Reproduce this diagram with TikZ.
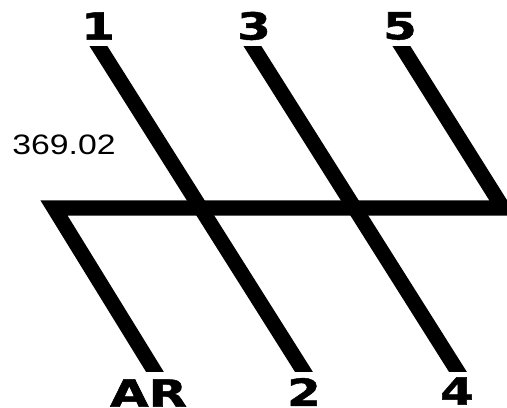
\documentclass[tikz,border=0pt]{standalone}
\usepackage{fontspec}
\setmainfont{Liberation Sans}
\newfontfamily\gearfont[FakeBold=1.2]{DejaVu Sans Bold}
\usepackage{xcolor}

\tikzset{
  rail/.style={line width=4.3pt,line cap=rect,line join=miter},
  gearlabel/.style={inner sep=0pt,font=\gearfont\fontsize{10.6}{11}\selectfont,xscale=1.3,transform shape}
}

\begin{document}
\begin{tikzpicture}
  \useasboundingbox (0,0) rectangle (5.07,4.08);

  \coordinate (top1) at (0.99,3.61);
  \coordinate (top3) at (2.53,3.61);
  \coordinate (top5) at (4.02,3.61);
  \coordinate (bot2) at (3.04,0.36);
  \coordinate (bot4) at (4.58,0.36);
  \coordinate (botR) at (1.55,0.36);
  \coordinate (barL) at (0.54,2.00);
  \coordinate (barR) at (5.03,2.00);

  \begin{scope}
    \clip (0,0.36) rectangle (5.07,3.61);
    \draw[rail] (top1) -- (bot2);
    \draw[rail] (top3) -- (bot4);
    \draw[rail] (top5) -- (barR) -- (barL) -- (botR);
  \end{scope}

  \node[gearlabel] (one) at (0.98,3.82) {1};
  \node[gearlabel] (three) at (2.54,3.82) {3};
  \node[gearlabel] (five) at (4.00,3.82) {5};
  \node[gearlabel,xscale=1.03] (rev) at (1.485,0.15) {AR};
  \node[gearlabel] (two) at (3.04,0.16) {2};
  \node[gearlabel] (four) at (4.57,0.17) {4};

  \node[inner sep=0pt,font=\fontsize{8}{8}\selectfont,xscale=1.2,transform shape] (code) at (0.64,2.63) {369.02};
\end{tikzpicture}
\end{document}
